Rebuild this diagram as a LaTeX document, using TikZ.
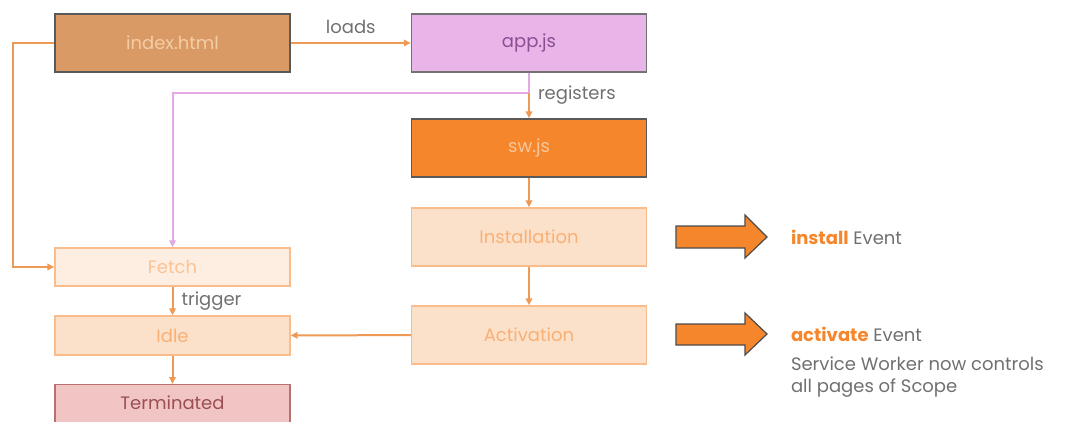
\documentclass[tikz,border=0pt]{standalone}
\usepackage{fontspec}
\setmainfont{Poppins}
\usetikzlibrary{arrows.meta,positioning}
\definecolor{lineor}{HTML}{EE9A55}
\definecolor{linepk}{HTML}{E4A8E4}
\definecolor{labgray}{HTML}{707070}
\definecolor{bigor}{HTML}{F5862B}
\definecolor{indexfill}{HTML}{D99A66}
\definecolor{indextext}{HTML}{F6CCA4}
\definecolor{appfill}{HTML}{E9B5E9}
\definecolor{apptext}{HTML}{8C4E94}
\definecolor{swtext}{HTML}{F8C79A}
\definecolor{termfill}{HTML}{F2C5C5}
\definecolor{termdraw}{HTML}{B87070}
\definecolor{termtext}{HTML}{9A4F55}
\begin{document}
\begin{tikzpicture}[x=1pt,y=-1pt,line width=2pt,
  font=\fontsize{18}{22}\selectfont,
  box/.style={draw,rectangle,minimum width=235pt,minimum height=58pt,line width=1.4pt},
  flat/.style={box,fill=#1!25!white,draw=#1!55!white,text=#1!65!white},
  conn/.style={draw=lineor,-{Triangle[length=7pt,width=6.5pt]}},
  lab/.style={text=labgray,inner sep=2pt},
  bigarrow/.style={fill=bigor,draw=black!70,line width=1.2pt,line join=miter}]
\useasboundingbox (0,0) rectangle (1073,421);
\node[box,fill=indexfill,draw=black!65,text=indextext] (index) at (172.5,43) {index.html};
\node[box,fill=appfill,draw=black!55,text=apptext] (app) at (529,43) {app.js};
\node[box,fill=bigor,draw=black!65,text=swtext] (sw) at (529,148) {sw.js};
\node[flat=bigor] (install) at (529,237) {Installation};
\node[flat=bigor] (activ) at (529,335) {Activation};
\node[flat=bigor,minimum height=38pt,fill=bigor!14!white,text=bigor!50!white] (fetch) at (172.5,267) {Fetch};
\node[flat=bigor,minimum height=39pt] (idle) at (172.5,335.5) {Idle};
\node[box,minimum height=46pt,anchor=north,fill=termfill,draw=termdraw] (term) at (172.5,384) {};
\node[text=termtext] (termlab) at (172.5,403) {Terminated};
\coordinate (split) at (529,93);
\draw[conn] (index.west) -- (13,43) |- (fetch.west);
\draw[conn] (index) -- (app) node[midway,above=6pt,lab] {loads};
\draw[draw=linepk,-{Triangle[length=7pt,width=6.5pt]}] (app.south) -- (split) -| (fetch.north);
\draw[conn] (split) -- (sw) node[pos=0.1,right=6pt,lab] {registers};
\draw[conn] (sw) -- (install);
\draw[conn] (install) -- (activ);
\draw[conn] (activ) -- (idle);
\draw[conn] (fetch) -- (idle) node[midway,right=6pt,lab] {trigger};
\draw[conn] (idle) -- (term);
\draw[bigarrow] (676,226) -- (745,226) -- (745,215) -- (767,237) -- (745,258) -- (745,248) -- (676,248) -- cycle;
\draw[bigarrow] (676,324) -- (745,324) -- (745,313) -- (767,334) -- (745,355) -- (745,345) -- (676,345) -- cycle;
\node[anchor=west,inner sep=0pt,text=labgray] (instev) at (790,237) {\textcolor{bigor}{\bfseries install} Event};
\node[anchor=west,inner sep=0pt,text=labgray] (actev) at (790,334) {\textcolor{bigor}{\bfseries activate} Event};
\node[anchor=north west,inner sep=0pt,text=labgray,align=left] (actnote) at (790,356) {Service Worker now controls\\all pages of Scope};
\end{tikzpicture}
\end{document}
